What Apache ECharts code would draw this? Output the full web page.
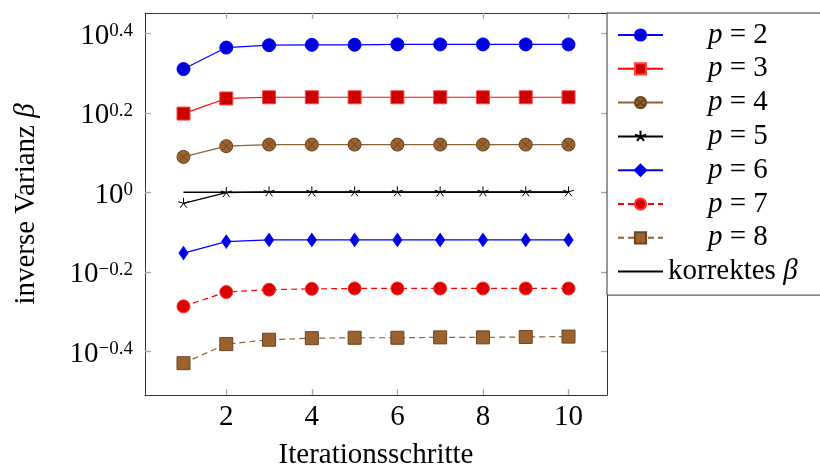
<!DOCTYPE html>
<html><head><meta charset="utf-8">
<script src="https://cdn.jsdelivr.net/npm/echarts@6/dist/echarts.min.js"></script>
<style>html,body{margin:0;padding:0;background:#fff}#c{width:820px;height:468px}</style>
</head><body><div id="c"></div>
<script>
// x: iteration steps
const iterations = [1, 2, 3, 4, 5, 6, 7, 8, 9, 10];
// y: log10 of the inverse variance beta (axis is logarithmic, labels 10^k)
const log10Beta_p2 = [0.310, 0.364, 0.370, 0.371, 0.371, 0.372, 0.372, 0.372, 0.372, 0.372];
const log10Beta_p3 = [0.198, 0.236, 0.239, 0.239, 0.239, 0.239, 0.239, 0.239, 0.239, 0.239];
const log10Beta_p4 = [0.089, 0.116, 0.120, 0.120, 0.120, 0.120, 0.120, 0.120, 0.120, 0.120];
const log10Beta_p5 = [-0.028, -0.001, 0.001, 0.001, 0.001, 0.001, 0.001, 0.001, 0.001, 0.001];
const log10Beta_p6 = [-0.153, -0.124, -0.120, -0.120, -0.120, -0.120, -0.120, -0.120, -0.120, -0.120];
const log10Beta_p7 = [-0.287, -0.251, -0.245, -0.243, -0.242, -0.242, -0.242, -0.242, -0.242, -0.242];
const log10Beta_p8 = [-0.430, -0.382, -0.371, -0.367, -0.366, -0.366, -0.365, -0.365, -0.364, -0.363];
const log10Beta_correct = [0, 0, 0, 0, 0, 0, 0, 0, 0, 0];
const seriesNames = ['p = 2', 'p = 3', 'p = 4', 'p = 5', 'p = 6', 'p = 7', 'p = 8', 'korrektes β'];
const yTickExponents = [-0.4, -0.2, 0, 0.2, 0.4];
const xTicks = [2, 4, 6, 8, 10];

const FONT = '"Liberation Serif", "Times New Roman", serif';
const otimesPath = 'path://M0,10 A10,10 0 1,1 20,10 A10,10 0 1,1 0,10 Z M2.9,2.9 L17.1,17.1 M17.1,2.9 L2.9,17.1';
const starPath = 'path://M10,10 L10,0 M10,10 L19.5,6.9 M10,10 L15.9,18.1 M10,10 L4.1,18.1 M10,10 L0.5,6.9 M10,20 L10,20';

function pts(arr) { return iterations.map((x, i) => [x, arr[i]]); }

const styles = [
  {data: log10Beta_p2, color: '#0000ff', fill: '#0000dd', border: '#0000ff', symbol: 'circle', size: 13, dash: 'solid'},
  {data: log10Beta_p3, color: '#ff0000', fill: '#cc0000', border: '#ff4444', symbol: 'rect', size: 13, dash: 'solid'},
  {data: log10Beta_p4, color: '#8c6239', fill: '#99622e', border: '#6b4420', symbol: otimesPath, size: 13, dash: 'solid'},
  {data: log10Beta_p5, color: '#000000', fill: 'rgba(0,0,0,0)', border: '#000000', symbol: starPath, size: 11, dash: 'solid'},
  {data: log10Beta_p6, color: '#0000ff', fill: '#0000dd', border: '#0000ff', symbol: 'diamond', size: [9, 13], dash: 'solid'},
  {data: log10Beta_p7, color: '#ff0000', fill: '#dd0000', border: '#ff3333', symbol: 'circle', size: 13, dash: [6, 4]},
  {data: log10Beta_p8, color: '#8c6239', fill: '#99622e', border: '#6b4420', symbol: 'rect', size: 13, dash: [6, 4]}
];

const series = styles.map((s, i) => ({
  name: seriesNames[i], type: 'line', data: pts(s.data),
  symbol: s.symbol, symbolSize: s.size, showSymbol: true,
  lineStyle: {color: s.color, width: 1.2, type: s.dash},
  itemStyle: {color: s.fill, borderColor: s.border, borderWidth: 1},
  z: 3
}));
series.push({
  name: seriesNames[7], type: 'line', data: pts(log10Beta_correct),
  symbol: 'none', lineStyle: {color: '#000', width: 1.6}, itemStyle: {color: '#000'}, z: 2
});

function expLabel(v) {
  const r = Math.round(v * 10) / 10;
  let e = r === 0 ? '0' : (r < 0 ? '−' + Math.abs(r) : String(r));
  return '{b|10}{e|' + e + '}';
}

const chart = echarts.init(document.getElementById('c'), null, {renderer: 'canvas'});
const tickStyle = {show: true, inside: true, length: 6, lineStyle: {color: '#aaaaaa', width: 1.3}};
const lineStyleAxis = {show: true, onZero: false, lineStyle: {color: '#333', width: 1}};
const legendData = seriesNames.map((n, i) => i === 7
  ? {name: n, itemStyle: {color: 'rgba(0,0,0,0)', borderColor: 'rgba(0,0,0,0)', borderWidth: 0}}
  : {name: n});
chart.setOption({
  animation: false,
  backgroundColor: '#fff',
  grid: {left: 145, right: 213, top: 13, bottom: 73, containLabel: false, outerBoundsMode: 'none'},
  xAxis: [{
    type: 'value', min: 0.1, max: 10.9, position: 'bottom',
    axisLine: lineStyleAxis, splitLine: {show: false},
    axisTick: Object.assign({customValues: xTicks}, tickStyle),
    axisLabel: {customValues: xTicks, fontFamily: FONT, fontSize: 29, color: '#000', margin: 8},
    name: 'Iterationsschritte', nameLocation: 'middle', nameGap: 46,
    nameTextStyle: {fontFamily: FONT, fontSize: 29, color: '#000'}
  }, {
    type: 'value', min: 0.1, max: 10.9, position: 'top',
    axisLine: lineStyleAxis, splitLine: {show: false},
    axisTick: Object.assign({customValues: xTicks}, tickStyle),
    axisLabel: {show: false}
  }],
  yAxis: [{
    type: 'value', min: -0.51, max: 0.451, position: 'left',
    axisLine: lineStyleAxis, splitLine: {show: false},
    axisTick: Object.assign({customValues: yTickExponents}, tickStyle),
    axisLabel: {
      customValues: yTickExponents, margin: 12, formatter: expLabel, padding: [6, 0, 0, 0],
      rich: {
        b: {fontFamily: FONT, fontSize: 29, color: '#000', lineHeight: 29, verticalAlign: 'bottom', padding: [2, 0, 0, 0]},
        e: {fontFamily: FONT, fontSize: 19, color: '#000', lineHeight: 19, verticalAlign: 'top'}
      }
    },
    name: 'inverse Varianz {i|β}', nameLocation: 'middle', nameGap: 104,
    nameTextStyle: {fontFamily: FONT, fontSize: 29, color: '#000',
      rich: {i: {fontFamily: FONT, fontSize: 29, fontStyle: 'italic', color: '#000'}}}
  }, {
    type: 'value', min: -0.51, max: 0.451, position: 'right',
    axisLine: lineStyleAxis, splitLine: {show: false},
    axisTick: Object.assign({customValues: yTickExponents}, tickStyle),
    axisLabel: {show: false}
  }],
  legend: {
    orient: 'vertical', left: 607, top: 13,
    padding: [7.5, 24, 9, 10], itemGap: 4.8, itemWidth: 45, itemHeight: 14,
    borderColor: '#333', borderWidth: 1, backgroundColor: '#fff',
    data: legendData,
    formatter: function (name) {
      if (name.indexOf('p = ') === 0) {
        return '{s|}{i|p}{n| = ' + name.slice(4) + '}';
      }
      return '{n|korrektes }{i|β}';
    },
    textStyle: {
      fontFamily: FONT, fontSize: 29, color: '#000',
      rich: {
        s: {width: 40},
        i: {fontFamily: FONT, fontSize: 29, fontStyle: 'italic', color: '#000'},
        n: {fontFamily: FONT, fontSize: 29, color: '#000'}
      }
    }
  },
  series: series
});
</script>
</body></html>
